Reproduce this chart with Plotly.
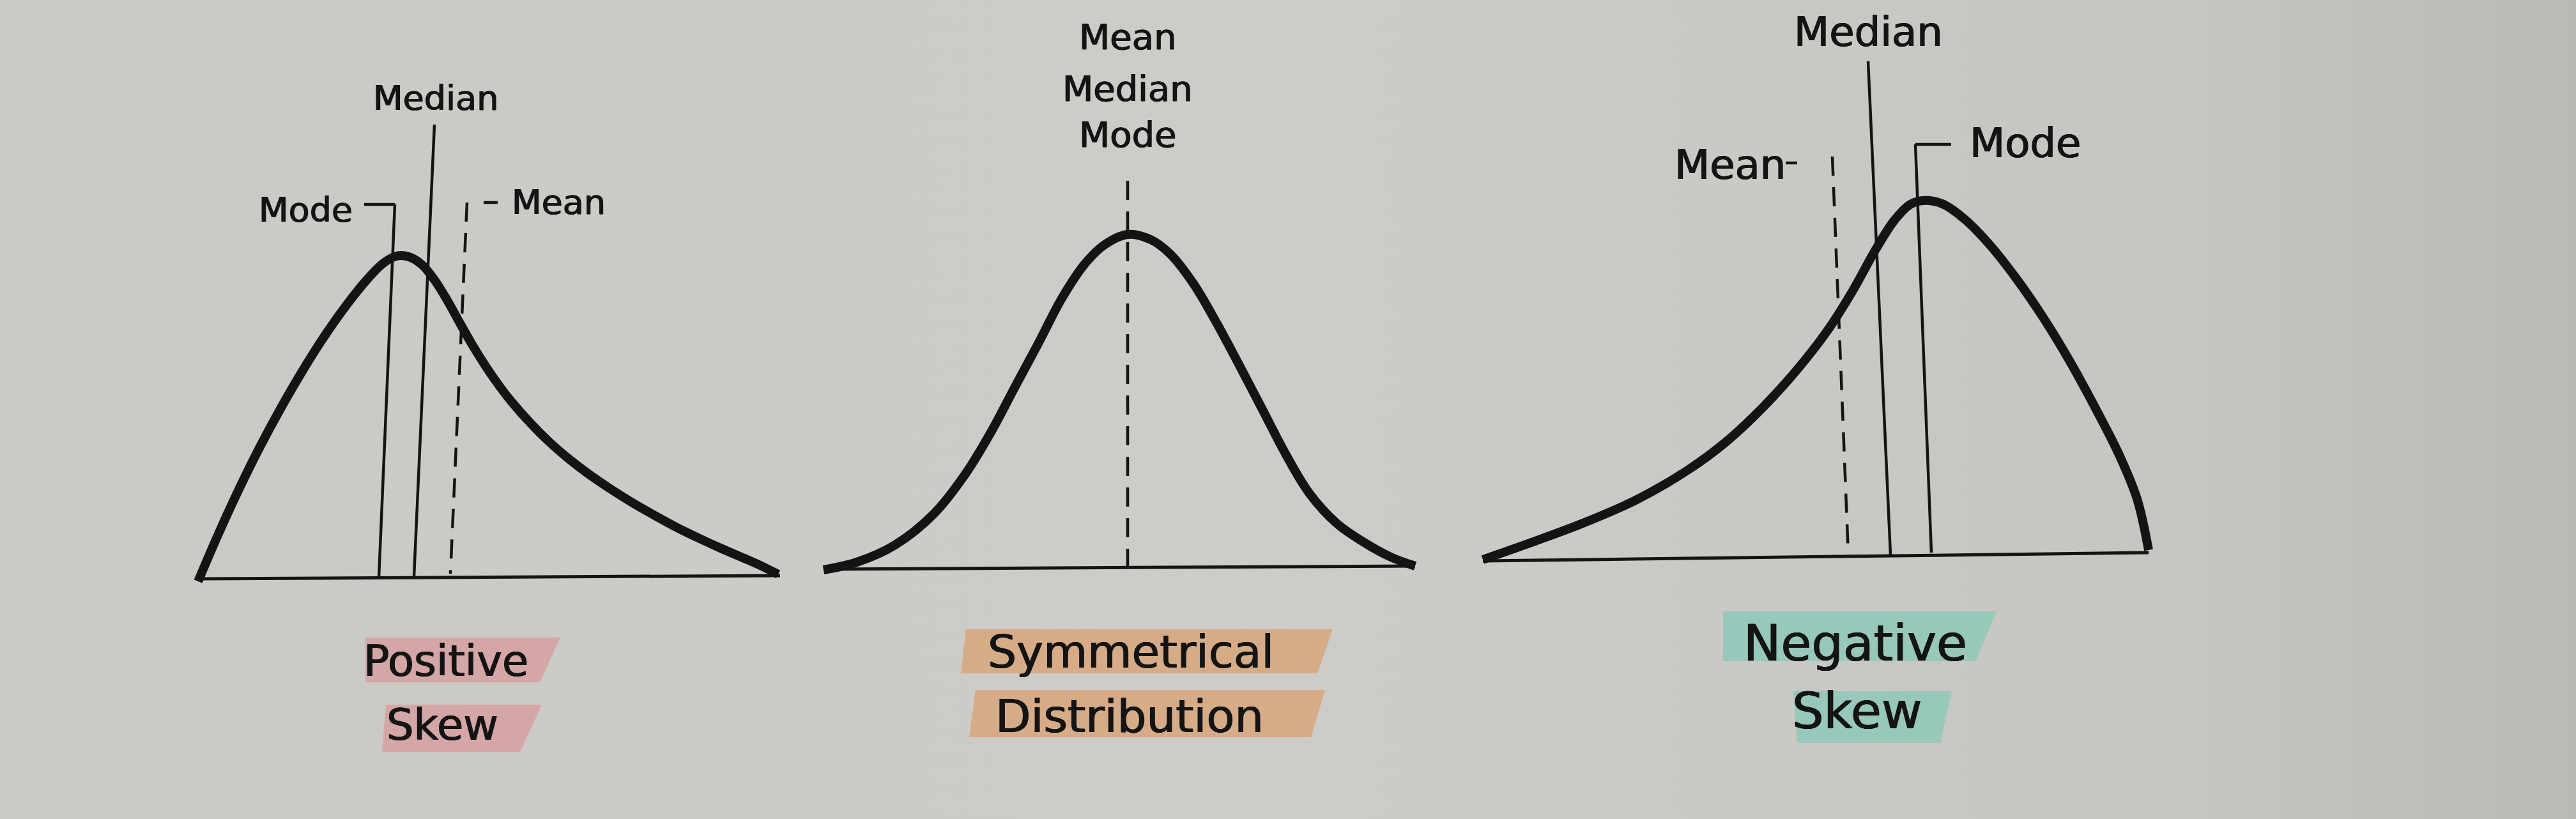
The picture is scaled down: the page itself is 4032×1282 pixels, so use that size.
import plotly.graph_objects as go

# Positive skew curve
pos_curve_x = [310, 340, 372, 405, 440, 475, 510, 545, 575, 600, 620, 640, 660, 680, 700, 720, 740, 760, 780, 800, 830, 860, 890, 920, 955, 990, 1025, 1060, 1095, 1130, 1165, 1192, 1218]
pos_curve_y = [910, 840, 770, 703, 638, 578, 523, 474, 437, 412, 401, 402, 414, 438, 470, 506, 541, 573, 602, 628, 662, 692, 718, 741, 765, 787, 807, 826, 843, 859, 874, 886, 899]
pos_base_x = [310, 1221]
pos_base_y = [906, 901]
pos_names = ["Mode", "Median", "Mean"]
pos_line_x_bottom = [593, 648, 705]
pos_line_x_top = [618, 680, 731]
pos_line_y_top = [320, 195, 317]
pos_line_y_bottom = [904, 902, 898]
pos_line_dash = ["solid", "solid", "dash"]

# Symmetrical distribution curve
sym_curve_x = [1289, 1341, 1401, 1462, 1511, 1553, 1589, 1626, 1662, 1698, 1729, 1765, 1801, 1832, 1868, 1904, 1941, 1977, 2013, 2050, 2092, 2135, 2177, 2215]
sym_curve_y = [892, 880, 853, 804, 742, 673, 605, 536, 467, 413, 383, 367, 375, 398, 444, 505, 574, 643, 712, 773, 819, 849, 872, 886]
sym_base_x = [1289, 2215]
sym_base_y = [891, 886]
sym_names = ["Mean\nMedian\nMode"]
sym_line_x_bottom = [1765]
sym_line_x_top = [1765]
sym_line_y_top = [283]
sym_line_y_bottom = [888]
sym_line_dash = ["dash"]

# Negative skew curve
neg_curve_x = [2321, 2400, 2480, 2560, 2640, 2700, 2760, 2810, 2860, 2900, 2935, 2965, 2990, 3010, 3040, 3075, 3115, 3156, 3198, 3240, 3282, 3317, 3345, 3363]
neg_curve_y = [876, 848, 818, 783, 737, 693, 637, 582, 518, 455, 392, 345, 320, 314, 319, 343, 384, 436, 497, 566, 643, 712, 781, 861]
neg_base_x = [2321, 3363]
neg_base_y = [878, 865]
neg_names = ["Mean", "Median", "Mode"]
neg_line_x_bottom = [2893, 2959, 3023]
neg_line_x_top = [2868, 2924, 2998]
neg_line_y_top = [245, 96, 226]
neg_line_y_bottom = [869, 868, 865]
neg_line_dash = ["dash", "solid", "solid"]

titles = [["Positive", "Skew"], ["Symmetrical", "Distribution"], ["Negative", "Skew"]]

# ---------------- styling -------------
INK = "#141414"
BG = "rgb(201,200,196)"
FONT = "DejaVu Sans"
W, H = 4032, 1282

fig = go.Figure()

# paper tone (slightly darker towards the right edge, as in the photo)
fig.add_trace(go.Scatter(
    x=[0, W, W, 0, 0], y=[0, 0, H, H, 0], mode="lines", fill="toself",
    line=dict(width=0), hoverinfo="skip", showlegend=False,
    fillgradient=dict(type="horizontal",
                      colorscale=[[0, "rgb(202,201,197)"], [0.5, "rgb(205,204,200)"],
                                  [0.85, "rgb(198,197,193)"], [1, "rgb(186,185,181)"]])))

def add_line(x, y, width, dash="solid", shape="linear"):
    fig.add_trace(go.Scatter(x=x, y=y, mode="lines", hoverinfo="skip", showlegend=False,
                             line=dict(color=INK, width=width, dash=dash, shape=shape, smoothing=1.0)))

# highlighter strokes (decorative, drawn behind text)
hl = [
    ("rgba(214,160,162,0.88)", [(572, 998), (877, 998), (845, 1068), (572, 1068)]),
    ("rgba(214,160,162,0.88)", [(604, 1103), (848, 1103), (814, 1177), (598, 1177)]),
    ("rgba(214,168,128,0.9)", [(1512, 985), (2086, 985), (2062, 1054), (1504, 1054)]),
    ("rgba(214,168,128,0.9)", [(1527, 1080), (2074, 1080), (2052, 1154), (1517, 1154)]),
    ("rgba(146,200,186,0.92)", [(2697, 957), (3125, 957), (3092, 1035), (2697, 1035)]),
    ("rgba(146,200,186,0.92)", [(2807, 1082), (3055, 1082), (3037, 1163), (2813, 1163)]),
]
for col, pts in hl:
    path = "M " + " L ".join(f"{px},{py}" for px, py in pts) + " Z"
    fig.add_shape(type="path", path=path, xref="x", yref="y", fillcolor=col,
                  line=dict(width=0), layer="above")

# baselines
for bx, by in [(pos_base_x, pos_base_y), (sym_base_x, sym_base_y), (neg_base_x, neg_base_y)]:
    add_line(bx, by, 5)

# marker lines
for xb, xt, yt, yb, ds in [
    (pos_line_x_bottom, pos_line_x_top, pos_line_y_top, pos_line_y_bottom, pos_line_dash),
    (sym_line_x_bottom, sym_line_x_top, sym_line_y_top, sym_line_y_bottom, sym_line_dash),
    (neg_line_x_bottom, neg_line_x_top, neg_line_y_top, neg_line_y_bottom, neg_line_dash),
]:
    for a, b, c, d, e in zip(xb, xt, yt, yb, ds):
        add_line([b, a], [c, d], 4.5, dash=("30px,18px" if e == "dash" else "solid"))

# curves
for cx, cy in [(pos_curve_x, pos_curve_y), (sym_curve_x, sym_curve_y), (neg_curve_x, neg_curve_y)]:
    add_line(cx, cy, 14, shape="spline")

# label connectors
add_line([570, pos_line_x_top[0]], [pos_line_y_top[0], pos_line_y_top[0]], 4.5)          # Mode bracket
add_line([757, 779], [pos_line_y_top[2], pos_line_y_top[2]], 4.5)                        # Mean dash
add_line([neg_line_x_top[2], 3054], [neg_line_y_top[2], neg_line_y_top[2]], 4.5)         # Mode bracket
add_line([2795, 2813], [neg_line_y_top[0] + 10, neg_line_y_top[0] + 10], 4.5)            # Mean dash

SHADOW = "0.7px 0px 0px #141414, -0.7px 0px 0px #141414"

def label(x, y, text, size, anchor="center"):
    fig.add_annotation(x=x, y=y, xref="x", yref="y", text=text, showarrow=False,
                       xanchor=anchor, yanchor="middle",
                       font=dict(family=FONT, size=size, color=INK, shadow=SHADOW))

# panel 1 labels
label(682, 153, pos_names[1], 54)
label(478, 328, pos_names[0], 54)
label(874, 316, pos_names[2], 54)
# panel 2 labels
for i, t in enumerate(sym_names[0].split("\n")):
    label(1765, [57, 138, 210][i], t, 56)
# panel 3 labels
label(2924, 50, neg_names[1], 64)
label(2708, 258, neg_names[0], 64)
label(3170, 224, neg_names[2], 64)

# category titles
label(698, 1035, titles[0][0], 67)
label(692, 1135, titles[0][1], 67)
label(1770, 1020, titles[1][0], 71)
label(1768, 1121, titles[1][1], 72)
label(2904, 1007, titles[2][0], 78)
label(2907, 1113, titles[2][1], 78)

fig.update_layout(
    width=W, height=H, margin=dict(l=0, r=0, t=0, b=0),
    paper_bgcolor=BG, plot_bgcolor=BG, showlegend=False,
    xaxis=dict(range=[0, W], visible=False, domain=[0, 1], fixedrange=True),
    yaxis=dict(range=[H, 0], visible=False, domain=[0, 1], fixedrange=True),
)
fig.write_html("out.html", config={"displayModeBar": False},
               post_script="document.body.style.margin='0';document.body.style.background='rgb(201,200,196)';")
